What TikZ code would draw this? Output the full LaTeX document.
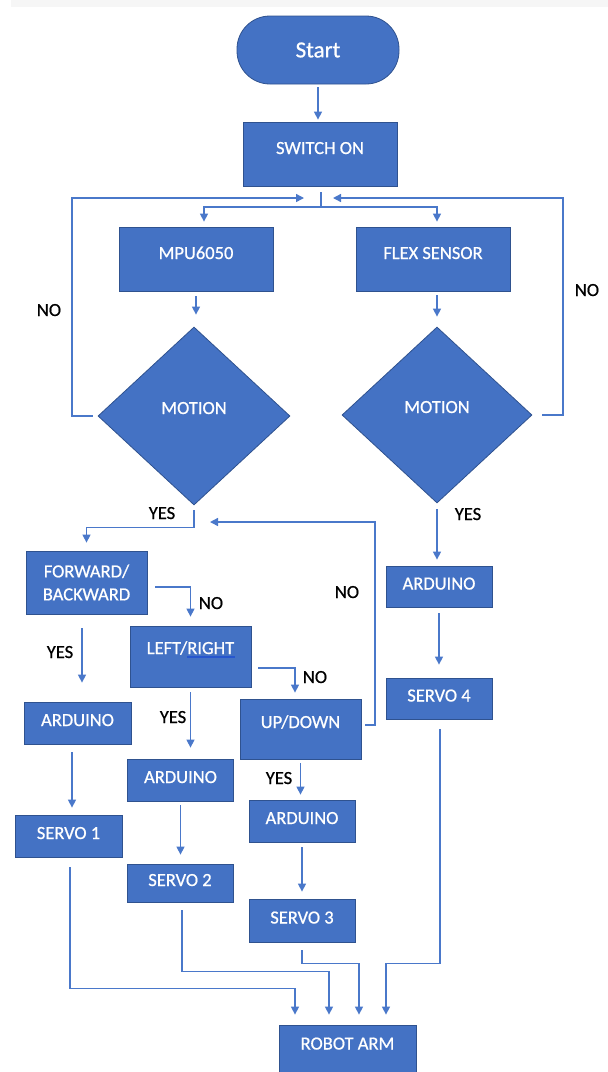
\documentclass[tikz,border=0pt]{standalone}
\usepackage{fontspec}
\setmainfont{Carlito}[FakeBold=0.7]
\usetikzlibrary{shapes.geometric,arrows.meta}

\definecolor{boxfill}{RGB}{68,114,196}
\definecolor{boxline}{RGB}{47,82,143}
\definecolor{wire}{RGB}{74,120,202}
\definecolor{spell}{RGB}{38,86,206}

\tikzset{
  block/.style={rectangle, fill=boxfill, draw=boxline, line width=0.8pt,
    text=white, inner sep=0pt, align=center,
    font=\fontsize{18.5}{23}\selectfont},
  lift/.style={text height=12pt, text depth=#1},
  lift/.default=6pt,
  widebox/.style={block, lift=12pt, minimum width=154pt, minimum height=64pt},
  midbox/.style={block, minimum width=121pt, minimum height=61pt},
  unitbox/.style={block, lift, minimum width=106pt, minimum height=42pt},
  terminal/.style={block, rounded corners=33pt, minimum width=162pt,
    minimum height=68pt, font=\fontsize{23}{26}\selectfont},
  decision/.style={block, diamond, lift=16pt},
  tag/.style={inner sep=0pt, text height=12pt, text depth=0pt,
    font=\fontsize{18.5}{22}\selectfont},
  line/.style={draw=wire, line width=1.4pt},
  arrow/.style={line, -{Triangle[width=8pt,length=8pt]}}
}

\begin{document}
\begin{tikzpicture}[x=1pt, y=-1pt]
\useasboundingbox (0,0) rectangle (608,1072);
\fill[gray!7] (11,0) rectangle (608,7);

% blocks
\node[terminal] (start) at (318,50) {Start};
\node[widebox] (switch) at (320,154) {SWITCH ON};
\node[widebox] (mpu) at (196,259) {MPU6050};
\node[widebox] (flex) at (433,259) {FLEX SENSOR};
\node[decision, minimum width=192pt, minimum height=178pt] (motionL) at (194,416) {MOTION};
\node[decision, minimum width=190pt, minimum height=176pt] (motionR) at (437,415) {MOTION};

\node[midbox, minimum height=63pt] (fwd) at (86.5,582.5) {FORWARD/\\BACKWARD};
\node[midbox, lift=17pt] (lr) at (190.5,656.5) {LEFT/RIGHT};
\node[midbox, lift=14pt, minimum height=60pt] (ud) at (300.5,729) {UP/DOWN};

\node[unitbox, minimum width=107pt] (ard1) at (77.5,723) {ARDUINO};
\node[unitbox] (ard2) at (180.5,780) {ARDUINO};
\node[unitbox] (ard3) at (302,821) {ARDUINO};
\node[unitbox, minimum height=41pt] (ard4) at (439,586.5) {ARDUINO};

\node[unitbox, minimum width=107pt] (servo1) at (68.5,836) {SERVO 1};
\node[unitbox, minimum height=38pt] (servo2) at (180,883) {SERVO 2};
\node[unitbox, minimum height=43pt] (servo3) at (302,920.5) {SERVO 3};
\node[unitbox, minimum height=41pt] (servo4) at (439,698.5) {SERVO 4};

\node[block, lift=11pt, minimum width=137pt, minimum height=48pt] (robot) at (347.5,1049) {ROBOT ARM};
\draw[spell, line width=1.1pt] ([xshift=-3.5pt, yshift=-0.5pt]lr.center) -- ([xshift=44.5pt, yshift=-0.5pt]lr.center);

% branch labels
\node[tag] (noL) at (49,310) {NO};
\node[tag] (noR) at (587,290) {NO};
\node[tag] (yesL) at (162,513) {YES};
\node[tag] (yesR) at (468,514) {YES};
\node[tag] (noM) at (347,592) {NO};
\node[tag] (noFwd) at (211,603) {NO};
\node[tag] (yesFwd) at (60,652) {YES};
\node[tag] (noLr) at (315,677) {NO};
\node[tag] (yesLr) at (173,717) {YES};
\node[tag] (yesUd) at (279,778) {YES};

% straight arrows
\foreach \a/\b/\s/\e in {start/switch/3pt/2pt, mpu/motionL/5pt/12pt,
    lr/ard2/5pt/11pt, ud/ard3/4pt/5pt, ard2/servo2/4pt/9pt,
    ard3/servo3/5pt/7pt, motionR/ard4/6pt/6pt, ard4/servo4/6pt/13pt}
  \draw[arrow, shorten <=\s, shorten >=\e] (\a.south) -- (\a.south |- \b.north);
\draw[arrow, shorten <=4pt, shorten >=10pt] (motionR.north |- flex.south) -- (motionR.north);
\draw[arrow, shorten <=14pt, shorten >=19pt] ([xshift=-4.5pt]fwd.south) -- ([xshift=-4.5pt]fwd.south |- ard1.north);
\draw[arrow, shorten <=8pt, shorten >=7pt] ([xshift=-5.5pt]ard1.south) -- ([xshift=-5.5pt]ard1.south |- servo1.north);

% split under switch
\coordinate (split) at (321,207);
\draw[line, shorten <=6pt] (switch.south -| split) -- (split);
\draw[arrow, shorten >=5pt] (split) -| ([xshift=8pt]mpu.north);
\draw[arrow, shorten >=5pt] (split) -| (motionR.north |- flex.north);

% loops back
\coordinate (backL) at (72,198);
\coordinate (backR) at (563,198);
\coordinate (backM) at (375,522);
\draw[arrow, shorten <=5pt, shorten >=17pt] (motionL.west) -| (backL) -- (split |- backL);
\draw[arrow, shorten <=10pt, shorten >=12pt] (motionR.east) -| (backR) -- (split |- backR);
\draw[arrow, shorten <=4pt, shorten >=16pt] ([yshift=4pt]ud.east) -| (backM) -- (motionL.south |- backM);

% decisions
\draw[arrow, shorten <=5pt, shorten >=8pt] (motionL.south) -- ++(0,22) -| (fwd.north);
\draw[arrow, shorten <=8pt, shorten >=9pt] ([yshift=-4.5pt]fwd.east) -| (lr.north);
\draw[arrow, shorten <=7pt, shorten >=6pt] ([yshift=-11.5pt]lr.east) -| ([xshift=-5.5pt]ud.north);

% servos to arm
\draw[arrow, shorten <=10pt, shorten >=10pt] ([xshift=1.5pt]servo1.south) -- ++(0,131) -| ([xshift=-52.5pt]robot.north);
\draw[arrow, shorten <=8pt, shorten >=10pt] ([xshift=2pt]servo2.south) -- ++(0,69) -| ([xshift=-18.5pt]robot.north);
\draw[arrow, shorten <=8pt, shorten >=10pt] (servo3.south) -- ++(0,21) -| ([xshift=11.5pt]robot.north);
\draw[arrow, shorten <=10pt, shorten >=10pt] ([xshift=1pt]servo4.south) -- ++(0,244) -| ([xshift=38.5pt]robot.north);
\end{tikzpicture}
\end{document}
